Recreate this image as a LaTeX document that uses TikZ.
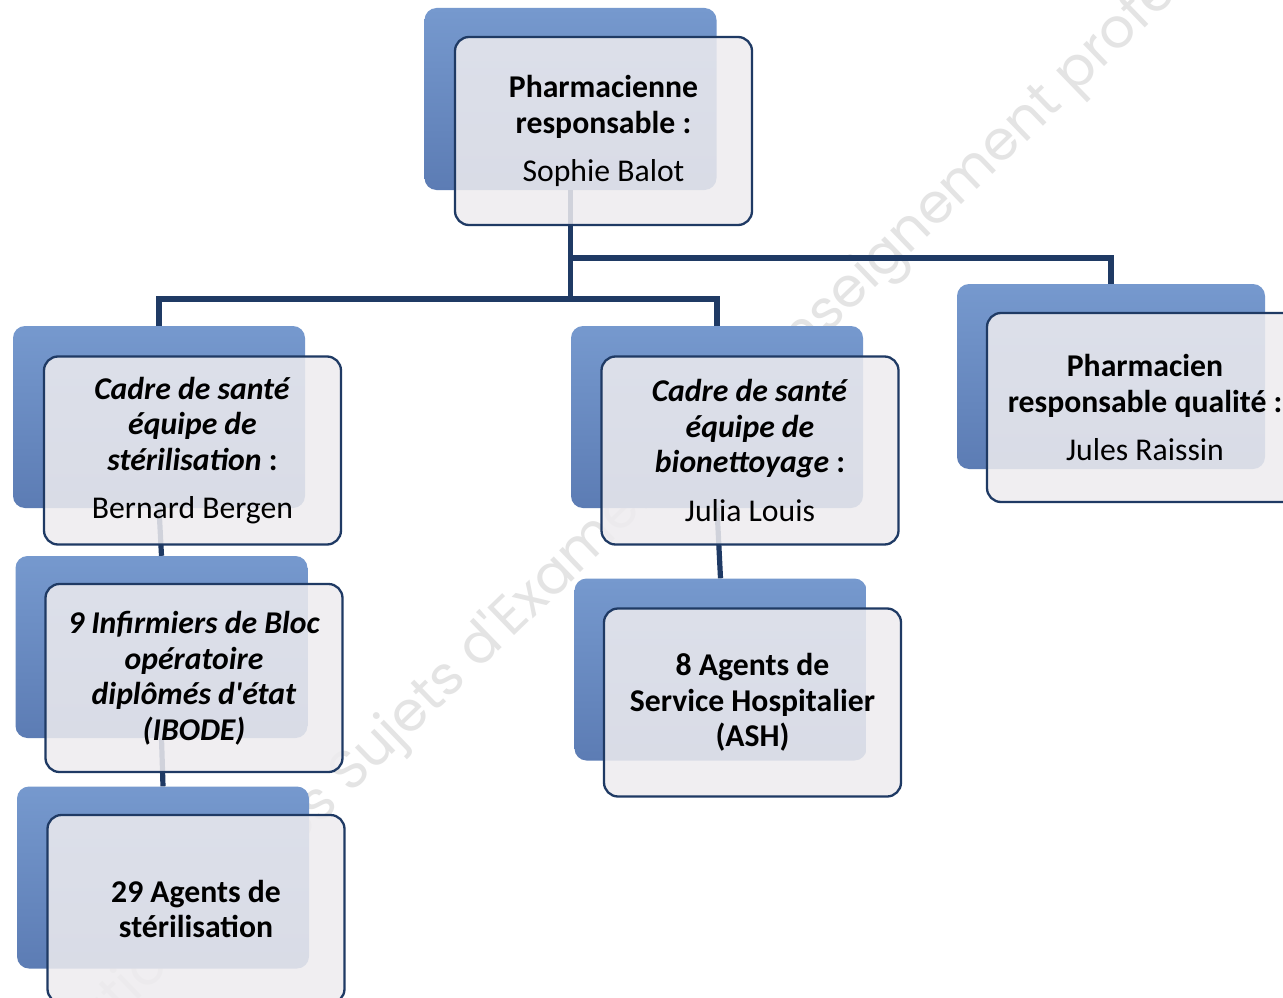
\documentclass[tikz,border=0pt]{standalone}
\usepackage{fontspec}
\setmainfont{Carlito}[Ligatures=TeXOff]
\newfontfamily\wmfont{Poppins}[Ligatures=TeXOff]
\usepackage{tikz}

\definecolor{navy}{RGB}{31,58,100}
\definecolor{backtop}{RGB}{118,153,206}
\definecolor{backbot}{RGB}{92,124,180}
\definecolor{frontfill}{RGB}{238,236,239}
\definecolor{wmgray}{RGB}{228,228,228}

\begin{document}
\begin{tikzpicture}[x=1pt,y=-1pt,
		back/.style={rectangle, rounded corners=12pt, top color=backtop, bottom color=backbot, minimum width=292pt, minimum height=182pt, inner sep=0pt},
		front/.style={rectangle, rounded corners=14pt, draw=navy, line width=2.3pt, fill=frontfill, fill opacity=0.86, text opacity=1, minimum width=297pt, minimum height=188pt, align=center, inner sep=0pt, font=\fontsize{31.7}{35.5}\selectfont},
		link/.style={draw=navy, line width=5.2pt}]
			\useasboundingbox (0,0) rectangle (1283,998);
			\clip (0,0) rectangle (1283,998);
			\fill [white] (0,0) rectangle (1283,998);

			\node [rotate=44, text=wmgray, font=\wmfont\fontsize{55}{60}\selectfont] (filigrane) at (640,495) {Base Nationale des Sujets d'Examens de l'enseignement professionnel};

			\node [back] (pharma-b) at (570.5,99) {};
			\node [back] (cadreS-b) at (159,417) {};
			\node [back] (ibode-b) at (161.5,647) {};
			\node [back] (agentsS-b) at (163,877.5) {};
			\node [back] (cadreB-b) at (717,417) {};
			\node [back] (ash-b) at (720.5,669.5) {};
			\node [back, minimum width=308pt, minimum height=185pt] (qualite-b) at (1111,376.5) {};

			\coordinate (bus) at (570.5,299);
			\coordinate (busq) at (570.5,258);

			\draw [link] (pharma-b.south) -- (bus) -| (cadreS-b.north);
			\draw [link] (bus) -| (cadreB-b.north);
			\draw [link] (busq) -| (qualite-b.north);
			\draw [link] (cadreS-b.south) -- (ibode-b.north);
			\draw [link] (ibode-b.south) -- (agentsS-b.north);
			\draw [link] (cadreB-b.south) -- (ash-b.north);

			\node [front] (pharma) at (603.5,131) {\textbf{Pharmacienne}\\\textbf{responsable :}\\[13pt]Sophie Balot};
			\node [front] (cadreS) at (192.5,450.5) {\textbf{\textit{Cadre de santé}}\\\textbf{\textit{équipe de}}\\\textbf{\textit{stérilisation} :}\\[13pt]Bernard Bergen};
			\node [front] (ibode) at (194,678) {\textbf{\textit{9 Infirmiers de Bloc}}\\\textbf{\textit{opératoire}}\\\textbf{\textit{diplômés d'état}}\\\textbf{\textit{(IBODE)}}};
			\node [front] (agentsS) at (196,909) {\textbf{29 Agents de}\\\textbf{stérilisation}};
			\node [front] (cadreB) at (750,450.5) {\textbf{\textit{Cadre de santé}}\\\textbf{\textit{équipe de}}\\\textbf{\textit{bionettoyage} :}\\[13pt]Julia Louis};
			\node [front] (ash) at (752.5,702.5) {\textbf{8 Agents de}\\\textbf{Service Hospitalier}\\\textbf{(ASH)}};
			\node [front, minimum width=316pt, minimum height=189pt] (qualite) at (1145,407.5) {\textbf{Pharmacien}\\\textbf{responsable qualité :}\\[13pt]Jules Raissin};

		\end{tikzpicture}
\end{document}
